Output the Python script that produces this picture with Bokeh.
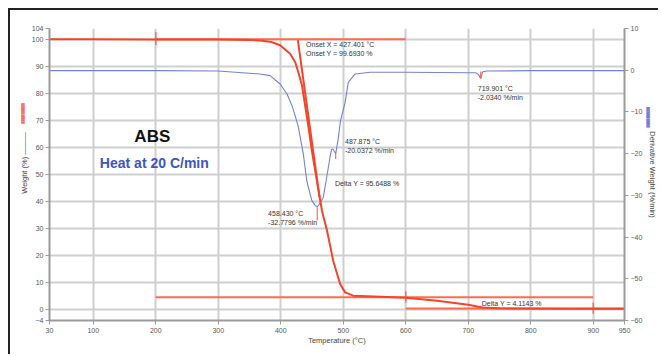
import math
from bokeh.plotting import figure
from bokeh.models import Range1d, LinearAxis, FixedTicker, Label
from bokeh.embed import file_html
from bokeh.resources import INLINE

# ---------------- data ----------------
x_ticks = [30, 100, 200, 300, 400, 500, 600, 700, 800, 900, 950]
w_ticks = [-4, 0, 10, 20, 30, 40, 50, 60, 70, 80, 90, 100, 104]
d_ticks = [-60, -50, -40, -30, -20, -10, 0, 10]

temp_w = [30, 100, 200, 300, 350, 370, 385, 399, 415, 423, 428, 434, 439, 444, 450,
          458, 466, 474, 484, 495, 503, 516, 550, 600, 650, 700, 723, 750, 850, 950]
weight = [100.0, 100.0, 99.95, 99.9, 99.75, 99.5, 99.0, 97.8, 94.7, 91.6, 87.9, 82.9, 75.5, 68.1, 58.5,
          47.5, 36.5, 29.3, 18.0, 9.5, 6.4, 5.2, 4.9, 4.4, 3.3, 1.8, 0.8, 0.5, 0.35, 0.3]

temp_d = [30, 200, 300, 367, 383, 399, 410, 418, 423, 428, 436, 441.6, 449.6, 455, 458.4,
          462, 468, 473.6, 478.9, 481.6, 484, 487.9, 491.5, 495.6, 503, 508, 519, 543,
          600, 700, 712, 716, 719.9, 723, 730, 800, 950]
deriv = [-0.1, -0.1, -0.2, -0.9, -1.3, -3.3, -5.7, -8.5, -10.9, -13.5, -20.0, -26.5, -31.2, -32.4, -32.78,
         -32.0, -30.5, -25.6, -20.8, -18.9, -19.0, -20.04, -16.9, -12.1, -7.7, -2.9, -0.9, -0.5,
         -0.5, -0.6, -0.6, -1.0, -2.03, -0.4, -0.2, -0.1, -0.1]

# step-analysis (Delta Y) construction lines
step_x0 = [200, 200, 600]
step_x1 = [600, 900, 950]
step_y = [100.0, 4.56, 0.4]
step_mark_x = [200, 600, 900]
step_mark_y0 = [97.8, 2.7, -1.5]
step_mark_y1 = [102.6, 6.8, 2.7]

onset_x = [427.401, 462]
onset_y = [99.693, 41.6]

peak_x = [458.43, 487.875, 719.901]
peak_y0 = [-32.9, -19.8, -0.3]
peak_y1 = [-36.0, -21.3, -2.0]

# ---------------- helpers for placing text (screen px -> data) ----------------
def tx(px):
    return 30 + (px - 49) * 920.0 / 576.0

def ty(py):
    return -4 + (320 - py) * 108.0 / 292.0

FONT = "Liberation Sans"
RED = "#f2452a"
RED2 = "#ff6b4d"
BLUE = "#7482d6"
NB = "\u00a0"

p = figure(width=650, height=346, output_backend="svg", toolbar_location=None,
           x_range=Range1d(30, 950), y_range=Range1d(-4, 104),
           min_border_left=39, min_border_right=35, min_border_top=18, min_border_bottom=36)
p.styles = {"border-left": "2px solid #222", "border-top": "2px solid #222",
            "margin-left": "8px", "margin-top": "8px"}
p.outline_line_color = None
p.background_fill_color = "white"
p.border_fill_color = "white"

p.extra_y_ranges = {"deriv": Range1d(-60, 10)}
raxis = LinearAxis(y_range_name="deriv", ticker=FixedTicker(ticks=d_ticks))
p.add_layout(raxis, "right")

p.xaxis.ticker = FixedTicker(ticks=x_ticks)
p.yaxis[0].ticker = FixedTicker(ticks=w_ticks)
p.xgrid.ticker = FixedTicker(ticks=x_ticks)
p.ygrid.ticker = FixedTicker(ticks=w_ticks)
p.grid.grid_line_color = "#cfcfcf"
p.grid.grid_line_width = 2

for ax in [p.xaxis[0], p.yaxis[0], raxis]:
    ax.axis_line_color = "#9a9a9a"
    ax.axis_line_width = 2
    ax.major_tick_line_color = "#9a9a9a"
    ax.major_tick_in = 0
    ax.major_tick_out = 4
    ax.minor_tick_line_color = None
    ax.major_label_text_font = FONT
    ax.major_label_text_font_size = "7px"
    ax.major_label_text_color = "#555555"
    ax.major_label_standoff = 3
    ax.axis_label_text_font = FONT
    ax.axis_label_text_font_size = "7.5px"
    ax.axis_label_text_font_style = "normal"
    ax.axis_label_text_color = "#444444"

p.xaxis[0].axis_label = "Temperature (°C)"
p.xaxis[0].axis_label_standoff = 0
p.yaxis[0].axis_label = NB * 11 + "Weight (%) ———"
p.yaxis[0].axis_label_standoff = 0
p.yaxis[0].major_label_standoff = 2
raxis.axis_label = "Derivative Weight (%/min)"
raxis.major_label_standoff = 2
raxis.axis_label_standoff = 3

# legend-marker bars next to the axis titles (tiny block glyphs as axis titles)
def bar_axis(side, color, text, standoff, range_name=None):
    kw = {"y_range_name": range_name} if range_name else {}
    ax = LinearAxis(ticker=FixedTicker(ticks=[]), axis_line_color=None,
                    major_tick_line_color=None, minor_tick_line_color=None,
                    major_label_text_font_size="0px", major_label_standoff=0,
                    major_tick_out=0, axis_label=text,
                    axis_label_text_font="DejaVu Sans", axis_label_text_font_size="3px",
                    axis_label_text_color=color, axis_label_text_font_style="normal",
                    axis_label_standoff=standoff, **kw)
    p.add_layout(ax, side)

bar_axis("left", "#f4735a", NB * 128 + "\u2588" * 9, -8)
bar_axis("right", "#7080d8", "\u2588" * 9 + NB * 120, -14, "deriv")

# curves
p.line(temp_d, deriv, y_range_name="deriv", line_color=BLUE, line_width=1.1)
p.segment(x0=step_x0, y0=step_y, x1=step_x1, y1=step_y, line_color=RED2, line_width=2)
p.segment(x0=step_mark_x, y0=step_mark_y0, x1=step_mark_x, y1=step_mark_y1, line_color=RED2, line_width=1.5)
p.line(onset_x, onset_y, line_color=RED, line_width=2)
p.line(temp_w, weight, line_color=RED, line_width=2)
p.segment(x0=peak_x, y0=peak_y0, x1=peak_x, y1=peak_y1, y_range_name="deriv", line_color=RED2, line_width=1.2)

def lab(px, py, text, size="7px", color="#333333", bold=False, align="left"):
    p.add_layout(Label(x=tx(px), y=ty(py), text=text, text_font=FONT, text_font_size=size,
                       text_color=color, text_font_style="bold" if bold else "normal",
                       text_align=align, text_baseline="middle"))

lab(306, 44, "Onset X = 427.401 °C")
lab(306, 52.5, "Onset Y = 99.6930 %")
lab(345, 141, "487.875 °C")
lab(345, 150, "-20.0372 %/min")
lab(335, 183, "Delta Y = 95.6488 %")
lab(268, 213, "458.430 °C")
lab(268, 222, "-32.7796 %/min")
lab(478, 88, "719.901 °C")
lab(478, 97, "-2.0340 %/min")
lab(482, 303, "Delta Y = 4.1143 %")

lab(152, 136, "ABS", size="17px", color="#111111", bold=True, align="center")
lab(154, 162, "Heat at 20 C/min", size="14px", color="#3d55c0", bold=True, align="center")

open("out.html", "w").write(file_html(p, INLINE))
